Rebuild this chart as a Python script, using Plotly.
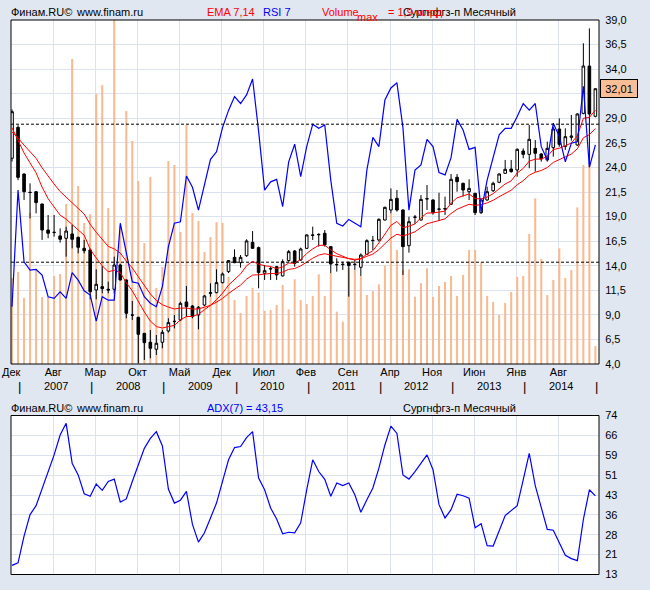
import plotly.graph_objects as go

W, H = 650, 590

# monthly candles, 98 bars (left to right)
opens = [24.93, 28.08, 23.33, 21.47, 21.53, 20.28, 17.63, 17.37, 17.03, 16.79,
         17.23, 16.89, 15.77, 15.60, 11.53, 11.87, 11.60, 11.60, 14.07, 12.55,
         8.99, 8.75, 7.12, 6.21, 5.50, 6.21, 7.36, 8.31, 8.48, 10.31,
         9.90, 8.99, 10.00, 11.19, 11.26, 12.28, 13.40, 14.85, 14.31, 15.02,
         16.38, 15.84, 13.23, 13.67, 13.90, 12.96, 14.52, 15.50, 14.58, 15.77,
         17.13, 17.19, 17.30, 15.94, 14.11, 14.11, 14.35, 14.11, 13.84, 15.16,
         16.55, 16.62, 18.65, 19.67, 20.86, 19.67, 16.04, 18.92, 18.65, 20.79,
         20.69, 19.77, 19.81, 20.25, 23.00, 22.38, 21.53, 21.36, 19.40, 20.69,
         21.63, 22.49, 23.40, 23.84, 23.74, 25.67, 25.33, 25.94, 25.37, 24.76,
         26.01, 27.91, 26.12, 27.06, 26.28, 29.50, 34.32, 29.20]
highs = [29.90, 28.30, 23.40, 22.38, 21.60, 20.30, 19.16, 19.16, 17.80, 17.97,
         18.14, 16.95, 16.62, 15.75, 13.63, 13.97, 12.38, 14.92, 14.20, 12.60,
         10.41, 8.80, 7.15, 7.46, 6.95, 7.46, 8.65, 8.99, 10.34, 11.94,
         10.00, 9.90, 11.02, 12.21, 13.63, 13.30, 14.58, 15.67, 15.09, 16.69,
         17.53, 15.95, 14.07, 13.90, 13.98, 14.65, 15.60, 15.60, 15.84, 17.20,
         17.97, 17.30, 17.63, 16.00, 14.75, 14.41, 14.41, 14.58, 15.26, 16.69,
         17.03, 18.82, 20.01, 21.87, 21.70, 19.74, 18.99, 19.16, 21.19, 22.21,
         20.75, 21.43, 21.03, 23.33, 23.33, 22.45, 22.79, 21.43, 20.86, 22.04,
         22.55, 23.40, 24.76, 24.76, 25.94, 25.94, 28.32, 26.79, 25.45, 26.62,
         28.15, 29.00, 27.98, 29.34, 29.50, 36.63, 38.15, 32.01]
lows = [24.60, 22.70, 20.69, 18.82, 19.33, 16.62, 16.79, 16.96, 16.35, 14.92,
        15.77, 15.26, 15.26, 10.58, 10.58, 11.19, 11.19, 11.19, 12.50, 8.65,
        8.48, 4.07, 4.41, 4.58, 4.92, 5.60, 7.20, 7.63, 8.40, 8.82,
        8.65, 7.53, 9.90, 10.85, 11.20, 12.20, 13.25, 14.25, 13.80, 14.90,
        15.70, 11.70, 12.55, 12.55, 12.55, 12.90, 14.40, 13.90, 14.50, 15.70,
        16.62, 15.94, 15.94, 13.23, 13.40, 13.57, 10.85, 13.57, 12.96, 15.10,
        15.60, 16.45, 18.60, 19.33, 19.50, 13.06, 15.33, 18.25, 18.60, 19.67,
        19.20, 18.59, 19.16, 20.20, 21.53, 21.03, 20.69, 19.16, 19.26, 20.60,
        21.50, 22.40, 23.35, 23.47, 23.06, 24.93, 23.91, 23.57, 24.59, 24.59,
        25.10, 26.10, 25.78, 26.72, 26.20, 29.40, 24.08, 29.10]
closes = [29.67, 22.99, 21.53, 21.45, 20.42, 17.63, 17.30, 17.40, 16.69, 17.53,
          16.69, 15.87, 15.53, 11.36, 12.11, 11.67, 11.53, 14.07, 12.55, 9.16,
          8.97, 7.02, 6.17, 5.60, 6.11, 7.22, 8.21, 8.34, 10.17, 9.84,
          8.82, 9.77, 10.92, 11.25, 12.28, 13.16, 14.52, 14.31, 14.85, 16.52,
          15.77, 13.30, 13.50, 13.70, 13.06, 14.41, 15.43, 14.24, 15.70, 17.13,
          17.10, 17.16, 16.11, 14.18, 14.11, 14.14, 14.01, 14.14, 15.09, 16.55,
          16.58, 18.72, 19.94, 20.75, 19.67, 15.94, 18.48, 18.95, 20.75, 20.82,
          19.40, 19.75, 19.78, 22.79, 22.55, 21.70, 21.87, 19.40, 20.69, 21.53,
          22.38, 23.33, 23.81, 23.57, 25.84, 25.33, 26.86, 25.44, 24.86, 25.94,
          27.91, 26.35, 27.13, 27.20, 29.44, 34.32, 29.44, 32.01]

# volume, millions of shares (max 1,9 bn)
volume_mln = [475, 508, 365, 834, 519, 370, 370, 486, 497, 884,
              1685, 983, 779, 828, 1491, 1541, 862, 1900, 762, 1397,
              1232, 1011, 668, 1033, 420, 536, 1121, 1099, 729, 1320,
              834, 790, 619, 701, 784, 780, 482, 353, 282, 376,
              421, 394, 294, 298, 326, 436, 302, 468, 353, 331,
              376, 495, 376, 501, 289, 234, 530, 519, 486, 381,
              403, 440, 543, 832, 630, 519, 523, 372, 446, 529,
              370, 431, 453, 486, 376, 492, 630, 630, 560, 376,
              342, 271, 337, 398, 481, 486, 718, 915, 580, 381,
              464, 639, 475, 519, 865, 1099, 1110, 99]

ema7 = [28.04, 26.78, 25.47, 24.46, 23.45, 22.00, 20.82, 19.97, 19.15, 18.74,
        18.23, 17.64, 17.11, 15.67, 14.78, 14.00, 13.38, 13.55, 13.30, 12.27,
        11.44, 10.34, 9.30, 8.37, 7.81, 7.66, 7.80, 7.93, 8.49, 8.83,
        8.83, 9.06, 9.53, 9.96, 10.54, 11.20, 12.03, 12.60, 13.16, 14.00,
        14.44, 14.16, 13.99, 13.92, 13.70, 13.88, 14.27, 14.26, 14.62, 15.25,
        15.71, 16.07, 16.08, 15.61, 15.23, 14.96, 14.72, 14.58, 14.71, 15.17,
        15.52, 16.32, 17.23, 18.11, 18.50, 17.86, 18.02, 18.25, 18.88, 19.36,
        19.37, 19.47, 19.55, 20.36, 20.91, 21.11, 21.30, 20.83, 20.79, 20.98,
        21.33, 21.83, 22.32, 22.63, 23.43, 23.90, 24.64, 24.84, 24.85, 25.12,
        25.82, 25.95, 26.24, 26.48, 27.22, 28.99, 29.10, 29.83]
ema14 = [27.62, 27.00, 26.27, 25.63, 24.93, 23.96, 23.07, 22.31, 21.55, 21.01,
         20.44, 19.83, 19.26, 18.21, 17.40, 16.64, 15.96, 15.71, 15.29, 14.47,
         13.77, 12.87, 11.98, 11.13, 10.46, 10.03, 9.79, 9.60, 9.68, 9.70,
         9.58, 9.61, 9.78, 9.98, 10.29, 10.67, 11.18, 11.60, 12.03, 12.63,
         13.05, 13.08, 13.14, 13.21, 13.19, 13.35, 13.63, 13.71, 13.98, 14.40,
         14.76, 15.08, 15.22, 15.08, 14.95, 14.84, 14.73, 14.65, 14.71, 14.96,
         15.17, 15.64, 16.22, 16.82, 17.20, 17.03, 17.22, 17.45, 17.89, 18.28,
         18.43, 18.61, 18.77, 19.31, 19.74, 20.00, 20.25, 20.14, 20.21, 20.39,
         20.66, 21.02, 21.39, 21.68, 22.24, 22.65, 23.21, 23.51, 23.69, 23.99,
         24.51, 24.76, 25.08, 25.36, 25.90, 27.02, 27.34, 27.96]

rsi7 = [17.1, 50.9, 30.1, 27.7, 27.9, 26.3, 20.0, 19.5, 21.4, 19.5,
        27.0, 24.8, 21.7, 20.5, 12.9, 20.0, 19.0, 19.0, 41.3, 32.6,
        24.3, 23.9, 20.0, 18.1, 17.1, 22.9, 34.5, 41.3, 41.7, 55.0,
        51.7, 45.1, 52.8, 59.8, 62.0, 69.0, 74.0, 78.0, 76.0, 78.5,
        83.1, 68.0, 50.9, 53.3, 54.0, 46.1, 59.1, 64.2, 54.8, 63.5,
        70.0, 68.8, 69.8, 53.8, 41.3, 40.5, 42.4, 41.4, 40.3, 56.7,
        66.2, 63.5, 77.0, 80.5, 82.0, 69.0, 45.1, 56.7, 58.2, 65.6,
        63.5, 56.0, 55.3, 60.3, 71.4, 68.3, 62.7, 63.3, 44.6, 53.8,
        60.6, 66.9, 68.8, 68.8, 72.2, 76.0, 74.1, 76.0, 63.5, 59.6,
        70.3, 66.4, 59.1, 64.5, 64.9, 81.0, 57.5, 64.0]

adx7 = [16.5, 17.5, 27.7, 36.0, 39.4, 45.8, 52.1, 58.9, 66.5, 71.0,
        55.7, 51.2, 44.0, 43.0, 47.7, 45.3, 48.7, 49.6, 40.8, 42.0,
        48.7, 55.0, 61.4, 65.2, 67.8, 62.3, 45.8, 40.4, 41.5, 44.9,
        32.2, 25.4, 29.0, 34.7, 40.4, 48.7, 57.0, 61.7, 62.1, 65.5,
        67.8, 50.0, 45.5, 38.5, 34.3, 28.6, 29.2, 29.0, 32.8, 45.5,
        57.0, 52.5, 49.5, 43.0, 48.1, 47.1, 48.1, 43.6, 36.9, 41.7,
        46.2, 53.8, 62.7, 69.9, 67.1, 51.2, 49.6, 52.5, 55.7, 58.9,
        53.2, 39.8, 34.7, 37.9, 43.8, 43.2, 42.3, 30.9, 32.5, 24.1,
        23.9, 29.6, 35.6, 37.5, 39.4, 49.3, 59.5, 47.1, 39.2, 30.3,
        30.0, 25.2, 20.4, 19.1, 18.3, 34.1, 45.5, 43.15]

month_labels = ["Дек", "Авг", "Мар", "Окт", "Май", "Дек", "Июл",
                "Фев", "Сен", "Апр", "Ноя", "Июн", "Янв", "Авг"]
year_labels = ["2007", "2008", "2009", "2010", "2011", "2012", "2013", "2014"]
price_ticks = [4.0, 6.5, 9.0, 11.5, 14.0, 16.5, 19.0, 21.5, 24.0,
               26.5, 29.0, 31.5, 34.0, 36.5, 39.0]
# 31,5 sits under the last-price box, so its label is not shown
price_ticktext = ["4,0", "6,5", "9,0", "11,5", "14,0", "16,5", "19,0", "21,5",
                  "24,0", "26,5", "29,0", "", "34,0", "36,5", "39,0"]
adx_ticks = [13, 20.625, 28.25, 35.875, 43.5, 51.125, 58.75, 66.375, 74]
adx_ticktext = ["13", "21", "28", "36", "43", "51", "59", "66", "74"]

idx = list(range(len(closes)))
month_pos = [7 * i - 0.15 for i in range(len(month_labels))]
year_sep = [1.25 + 12 * i for i in range(len(year_labels) + 1)]
year_pos = [7.25 + 12 * i for i in range(len(year_labels))]

FONT = "Liberation Sans, Arial, sans-serif"
BG = "#E0E7F1"
GRID = "#DCE2EE"
XRANGE = [-0.17, 97.6]


def pxx(v):
    return v / W


def pxy(v):
    return 1 - v / H


top_dom = [pxy(364), pxy(20)]
bot_dom = [pxy(574.5), pxy(415.5)]
x_dom = [pxx(11), pxx(599)]

fig = go.Figure()

# volume on the base axis, so it sits under everything else
fig.add_trace(go.Bar(x=idx, y=volume_mln, width=0.34, marker_color="#F8BA90",
                     marker_line_width=0, xaxis="x", yaxis="y"))
fig.add_trace(go.Candlestick(x=idx, open=opens, high=highs, low=lows, close=closes,
                             xaxis="x", yaxis="y2", whiskerwidth=0,
                             increasing=dict(fillcolor="white", line=dict(color="black", width=1)),
                             decreasing=dict(fillcolor="black", line=dict(color="black", width=1))))
fig.add_trace(go.Scatter(x=idx, y=ema7, mode="lines", line=dict(color="#FF0000", width=1),
                         xaxis="x", yaxis="y2"))
fig.add_trace(go.Scatter(x=idx, y=ema14, mode="lines", line=dict(color="#FF0000", width=1),
                         xaxis="x", yaxis="y2"))
fig.add_trace(go.Scatter(x=idx, y=rsi7, mode="lines", line=dict(color="#0000FF", width=1.2),
                         xaxis="x", yaxis="y3"))
fig.add_trace(go.Scatter(x=idx, y=adx7, mode="lines", line=dict(color="#0000FF", width=1.2),
                         xaxis="x2", yaxis="y4"))

fig.update_layout(
    width=W, height=H, showlegend=False,
    margin=dict(l=0, r=0, t=0, b=0),
    paper_bgcolor=BG, plot_bgcolor="white",
    font=dict(family=FONT, size=11, color="black"),
    boxgap=0.38,
    xaxis=dict(domain=x_dom, anchor="y", range=XRANGE, rangeslider=dict(visible=False),
               tickvals=month_pos, ticktext=month_labels, ticks="", showgrid=True,
               gridcolor=GRID, zeroline=False, showline=False, tickfont=dict(size=11),
               automargin=False),
    yaxis=dict(domain=top_dom, anchor="x", range=[0, 1900], showgrid=False,
               showticklabels=False, zeroline=False, fixedrange=True, automargin=False),
    yaxis2=dict(domain=top_dom, anchor="x", overlaying="y", side="right", range=[4, 39],
                tickvals=price_ticks, ticktext=price_ticktext, showgrid=True, gridcolor=GRID,
                zeroline=False, ticks="outside", ticklen=3, tickcolor="rgba(0,0,0,0)",
                automargin=False),
    yaxis3=dict(domain=top_dom, anchor="x", overlaying="y", range=[0.5, 100.2],
                visible=False, automargin=False),
    xaxis2=dict(domain=x_dom, anchor="y4", range=XRANGE, tickvals=month_pos,
                showticklabels=False, ticks="", showgrid=True, gridcolor=GRID, zeroline=False,
                automargin=False),
    yaxis4=dict(domain=bot_dom, anchor="x2", side="right", range=[13, 74],
                tickvals=adx_ticks, ticktext=adx_ticktext, showgrid=True, gridcolor=GRID,
                zeroline=False, ticks="outside", ticklen=3, tickcolor="rgba(0,0,0,0)",
                automargin=False),
)

shapes = []
# RSI 70 / 30 levels
for lvl in (70, 30):
    shapes.append(dict(type="line", xref="x domain", x0=0, x1=1, yref="y3", y0=lvl, y1=lvl,
                       line=dict(color="black", width=1, dash="3px,2px"), layer="above"))
# panel frames
shapes.append(dict(type="rect", xref="x domain", yref="y domain", x0=0, x1=1, y0=0, y1=1,
                   line=dict(color="black", width=1), layer="above"))
shapes.append(dict(type="rect", xref="x2 domain", yref="y4 domain", x0=0, x1=1, y0=0, y1=1,
                   line=dict(color="black", width=1), layer="above"))
fig.update_layout(shapes=shapes)

ann = []


def txt(x, y, s, color="black", size=11):
    ann.append(dict(xref="paper", yref="paper", x=pxx(x), y=pxy(y), text=s, showarrow=False,
                    xanchor="left", yanchor="middle", font=dict(color=color, size=size)))


# headers (the volume note runs into the ticker name, as in the original)
txt(9, 12.5, "Финам.RU©")
txt(74, 12.5, "www.finam.ru")
txt(205, 12.5, "EMA 7,14", "#FF0000")
txt(261, 12.5, "RSI 7", "#0000FF")
txt(401, 12.5, "Сургнфгз-п Месячный")
txt(320, 12.5, "Volume", "#FF0000")
txt(355, 17, "max", "#FF0000")
txt(386, 12.5, "= 1,9 млрд", "#FF0000")

txt(9, 407.5, "Финам.RU©")
txt(74, 407.5, "www.finam.ru")
txt(205, 407.5, "ADX(7) = %s" % str(adx7[-1]).replace(".", ","), "#0000FF")
txt(401, 407.5, "Сургнфгз-п Месячный")

# year row with separators
for xs in year_sep:
    ann.append(dict(xref="x", yref="paper", x=xs, y=pxy(386), text="|", showarrow=False,
                    xanchor="center", yanchor="middle", font=dict(size=13)))
for xs, lab in zip(year_pos, year_labels):
    ann.append(dict(xref="x", yref="paper", x=xs, y=pxy(386), text=lab, showarrow=False,
                    xanchor="center", yanchor="middle", font=dict(size=11)))

# last price marker
ann.append(dict(xref="paper", yref="y2", x=pxx(599.5), y=closes[-1],
                text=str(closes[-1]).replace(".", ","), showarrow=False,
                xanchor="left", yanchor="middle", bgcolor="#F9BE96", bordercolor="black",
                borderwidth=1, borderpad=2, width=32, height=13, font=dict(size=11)))

fig.update_layout(annotations=ann)

fig.write_html("out.html", config={"displayModeBar": False},
               post_script="document.body.style.margin='0px';"
                           "document.body.style.overflow='hidden';")
